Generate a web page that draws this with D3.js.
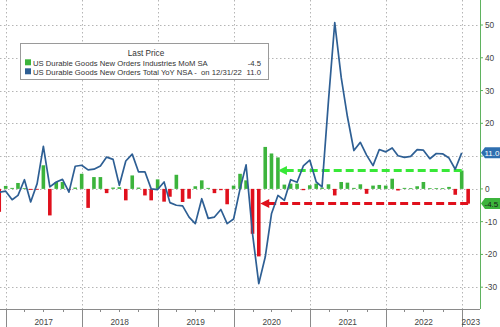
<!DOCTYPE html>
<html><head><meta charset="utf-8">
<script src="https://cdn.jsdelivr.net/npm/d3@7"></script>
<style>
html,body{margin:0;padding:0;background:#fff;}
svg{display:block;font-family:"Liberation Sans",Arial,sans-serif;}
</style></head>
<body><svg id="c" width="500" height="327"></svg>
<script>
// ---- data ----
const barStart = "2016-11";   // first month of MoM series
const momValues = [
 -7.0, 0.9,
 0.3, 1.8, 0.2, -0.3, -0.2, 7.2, -8.1, 2.1, 2.1, -0.3, 0.4, 4.6,
 -5.8, 3.6, 3.6, -1.3, 0.4, 0.5, -3.5, 4.1, 0.4, -2.0, -3.5, 2.9,
 -3.9, -2.4, 4.3, -4.0, -3.0, 0.8, 2.6, 0.3, -1.3, -0.4, -4.7, 1.0,
 4.6, 2.6, -13.7, -20.6, 12.8, 10.8, 9.6, 1.3, 1.6, 1.6, -0.4, 1.1,
 1.6, 0.4, 1.4, -2.0, 2.1, 1.9, 0.3, 1.4, -1.5, 1.0, 1.2, 1.0,
 3.1, -0.5, 0.3, 0.2, 0.8, 2.1, 0.2, 0.2, 0.2, 0.6, -1.8, 5.6,
 -4.5
];
const lineStart = "2016-11";
const yoyValues = [
 -1.0, -0.7,
 -3.3, -2.0, 2.8, -4.0, 1.6, 13.0, 0.6, 2.1, 2.9, -1.0, 6.9, 7.2,
 5.8, 6.0, 7.0, 9.7, 9.0, 1.1, 8.5, 10.6, 5.2, 5.2, 0.0, -0.2,
 2.1, -4.2, -5.0, -5.2, -8.6, -10.6, -3.0, -9.0, -8.6, -6.3, -10.6, -9.2,
 0.0, 7.3, -13.7, -28.9, -20.8, -7.6, -2.0, -3.5, 2.8, 2.0, 7.0, 8.8,
 2.1, 0.6, 27.0, 50.7, 34.0, 22.0, 11.7, 14.2, 10.3, 7.1, 12.0, 11.3,
 12.5, 10.1, 9.6, 9.9, 12.0, 11.8, 9.2, 10.8, 10.7, 9.4, 6.0, 11.0
];
const yearLabels = ["2017","2018","2019","2020","2021","2022","2023"];
const yTicks = [-30,-20,-10,0,10,20,30,40,50];
const legendTitle = "Last Price";
const legendItems = [
  {name:"US Durable Goods New Orders Industries MoM SA", value:"-4.5", color:"#3cb43c"},
  {name:"US Durable Goods New Orders Total YoY NSA -  on 12/31/22", value:"11.0", color:"#2e5f94"}
];
const lastMoM = -4.5, prevMoM = 5.6, lastYoY = 11.0;
// annotation arrow tips (dates)
const greenArrowTip = "2020-08-01", redArrowTip = "2020-05-08";

// ---- helpers ----
const parseM = d3.timeParse("%Y-%m");
function monthEnds(start, n){ // plotted at end of each month
  const s = parseM(start);
  return d3.range(n).map(i => d3.timeMonth.offset(s, i+1));
}
const barDates = monthEnds(barStart, momValues.length);
const lineDates = monthEnds(lineStart, yoyValues.length);
const bars = barDates.map((d,i)=>({d, v:momValues[i]}));
const line = lineDates.map((d,i)=>({d, v:yoyValues[i]}));

const svg = d3.select("#c");
const plotRight = 480, plotBottom = 309;
const x = d3.scaleTime().domain([new Date(2017,0,1), new Date(2023,0,1)]).range([5.7, 461.7]);
const y = d3.scaleLinear().domain([-30,50]).range([287.2, 25]);

// grid
const grid = svg.append("g").attr("stroke","#b5b5b5").attr("stroke-width",1).attr("stroke-dasharray","1.5,2.5");
grid.selectAll("line.h").data(yTicks).join("line")
  .attr("x1",0).attr("x2",plotRight).attr("y1",d=>Math.round(y(d))+0.5).attr("y2",d=>Math.round(y(d))+0.5);
const yearBounds = d3.range(2017,2024).map(yr=>new Date(yr,0,1));
grid.selectAll("line.v").data(yearBounds).join("line")
  .attr("x1",d=>Math.round(x(d))+0.5).attr("x2",d=>Math.round(x(d))+0.5).attr("y1",0).attr("y2",plotBottom);

// bars
const bw = 3.6;
svg.append("g").selectAll("rect").data(bars).join("rect")
  .attr("x", d=>x(d.d)-bw/2).attr("width", bw)
  .attr("y", d=>Math.min(y(d.v), y(0))).attr("height", d=>Math.max(0.8, Math.abs(y(d.v)-y(0))))
  .attr("fill", d=>d.v>=0 ? "#3cb43c" : "#e0101c");

// annotations (dashed arrows)
function parseDate(s){ return d3.timeParse("%Y-%m-%d")(s); }
function arrow(val, tipDate, endDate, color){
  const yy = y(val);
  const tip = x(parseDate(tipDate));
  const g = svg.append("g");
  g.append("line").attr("x1", x(endDate)).attr("x2", tip+7).attr("y1",yy).attr("y2",yy)
    .attr("stroke",color).attr("stroke-width",3).attr("stroke-dasharray","8,4");
  g.append("path").attr("d", `M${tip},${yy} L${tip+9},${yy-4.5} L${tip+9},${yy+4.5} Z`).attr("fill",color);
}
arrow(prevMoM, greenArrowTip, barDates[barDates.length-2], "#38e838");
arrow(lastMoM, redArrowTip, barDates[barDates.length-1], "#e0101c");

// line
svg.append("path").datum(line)
  .attr("fill","none").attr("stroke","#2e5f94").attr("stroke-width",1.7).attr("stroke-linejoin","round")
  .attr("d", d3.line().x(d=>x(d.d)).y(d=>y(d.v)));

// bottom axis
const ax = svg.append("g").attr("stroke","#8a8a8a");
ax.append("line").attr("x1",0).attr("x2",plotRight).attr("y1",plotBottom+0.5).attr("y2",plotBottom+0.5);
ax.selectAll("line.yt").data(yearBounds).join("line")
  .attr("x1",d=>Math.round(x(d))+0.5).attr("x2",d=>Math.round(x(d))+0.5).attr("y1",plotBottom).attr("y2",327);
const quarters = d3.timeMonths(new Date(2017,0,1), new Date(2023,0,1), 3).filter(d=>d.getMonth()!==0);
ax.selectAll("line.qt").data(quarters).join("line")
  .attr("x1",d=>Math.round(x(d))+0.5).attr("x2",d=>Math.round(x(d))+0.5).attr("y1",plotBottom).attr("y2",plotBottom+3);
svg.append("g").selectAll("text").data(yearLabels).join("text")
  .attr("x",(d,i)=> i<6 ? (x(new Date(+d,0,1))+x(new Date(+d+1,0,1)))/2 : (x(new Date(2023,0,1))+plotRight)/2)
  .attr("y",325).attr("text-anchor","middle").attr("font-size",8.3).attr("fill","#444").text(d=>d);

// right axis (the 10 label is hidden behind the last-value tag)
const ra = svg.append("g");
ra.append("line").attr("x1",plotRight+0.5).attr("x2",plotRight+0.5).attr("y1",0).attr("y2",plotBottom)
  .attr("stroke","#5fb25f").attr("stroke-width",1);
ra.selectAll("line.t").data(yTicks).join("line")
  .attr("x1",plotRight).attr("x2",plotRight+3).attr("y1",d=>y(d)).attr("y2",d=>y(d)).attr("stroke","#5fb25f");
ra.selectAll("text").data(yTicks.filter(t=>Math.abs(y(t)-y(lastYoY))>8 && Math.abs(y(t)-y(lastMoM))>8)).join("text")
  .attr("x",485).attr("y",d=>y(d)+3).attr("font-size",8.3).attr("fill","#444").text(d=>d);

// value tags
function tag(val, fill, txtColor){
  const yc = y(val);
  svg.append("path").attr("d",`M481,${yc} L485,${yc-5.5} L500,${yc-5.5} L500,${yc+5.5} L485,${yc+5.5} Z`).attr("fill",fill);
  svg.append("text").attr("x",484.5).attr("y",yc+3).attr("font-size",8).attr("fill",txtColor).text(val.toFixed(1));
}
tag(lastYoY, "#2f6fb0", "#fff");
tag(lastMoM, "#3cb43c", "#1a1a1a");

// legend
const lg = svg.append("g");
lg.append("rect").attr("x",20.5).attr("y",43.5).attr("width",248).attr("height",36).attr("fill","#fff").attr("stroke","#9a9a9a");
lg.append("text").attr("x",146).attr("y",56).attr("text-anchor","middle").attr("font-size",8.2).attr("fill","#333").text(legendTitle);
legendItems.forEach((it,i)=>{
  const yy = 65.8 + i*9;
  lg.append("rect").attr("x",25).attr("y",yy-6.5).attr("width",6).attr("height",6).attr("fill",it.color);
  lg.append("text").attr("x",33).attr("y",yy).attr("font-size",7.7).attr("fill","#333")
    .style("white-space","pre").text(it.name);
  lg.append("text").attr("x",261).attr("y",yy).attr("text-anchor","end").attr("font-size",7.7).attr("fill","#333").text(it.value);
});
</script></body></html>
